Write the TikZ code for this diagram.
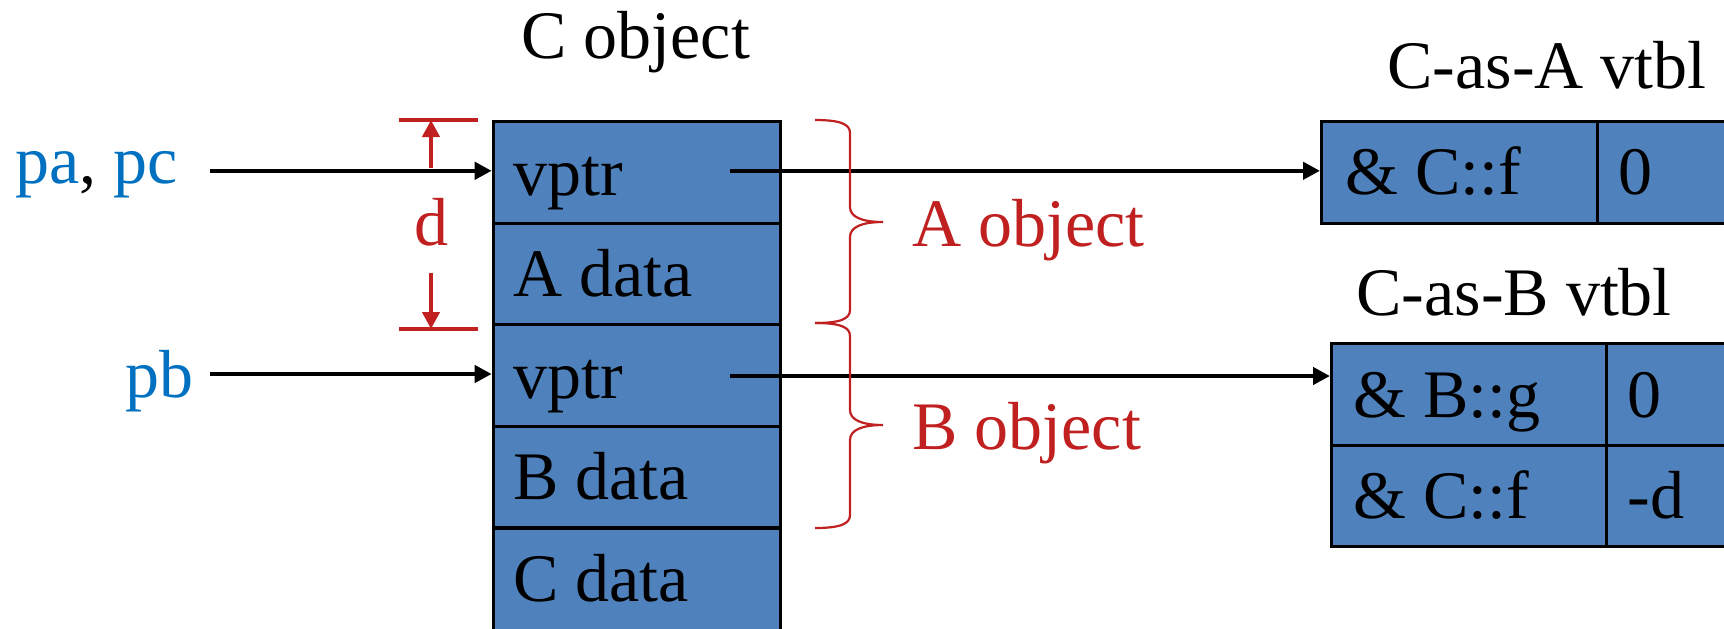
\documentclass[tikz,border=0pt]{standalone}
\usepackage{fontspec}
\setmainfont{Liberation Serif}
\usetikzlibrary{arrows.meta,calc}
\definecolor{cellblue}{RGB}{79,129,189}
\definecolor{ptrblue}{RGB}{0,112,192}
\definecolor{dimred}{RGB}{192,32,32}
\begin{document}
\begin{tikzpicture}[x=0.5pt,y=-0.5pt,
  cell/.style={draw=black, line width=1.6pt, fill=cellblue, inner sep=0pt, anchor=north west},
  txt/.style={inner sep=0pt, anchor=base west, font=\fontsize{34}{40}\selectfont},
  ptr/.style={line width=2.2pt, -{Triangle[length=8.5pt,width=8.5pt]}},
  dimline/.style={draw=dimred, line width=1.6pt},
  dimarrow/.style={draw=dimred, line width=2.1pt, -{Triangle[length=8.5pt,width=8.5pt]}},
  bracepath/.style={draw=dimred, line width=1.1pt}]
\useasboundingbox (0,0) rectangle (1724,628);

% C object layout
\node[cell, minimum width=143.5pt, minimum height=50.8pt] (c1) at (491.7,120) {};
\node[cell, minimum width=143.5pt, minimum height=50.8pt] (c2) at (491.7,221.6) {};
\node[cell, minimum width=143.5pt, minimum height=50.8pt] (c3) at (491.7,323.2) {};
\node[cell, minimum width=143.5pt, minimum height=50.8pt] (c4) at (491.7,424.8) {};
\node[cell, minimum width=143.5pt, minimum height=60pt] (c5) at (491.7,526.4) {};
\node[txt] (t1) at ($(c1.north west)+(21,75)$) {vptr};
\node[txt] (t2) at ($(c2.north west)+(21,75)$) {A data};
\node[txt] (t3) at ($(c3.north west)+(21,75)$) {vptr};
\node[txt] (t4) at ($(c4.north west)+(21,75)$) {B data};
\node[txt] (t5) at ($(c5.north west)+(21,75)$) {C data};
\node[txt] (cobj) at (521,58) {C object};

% C-as-A vtbl
\node[cell, minimum width=138pt, minimum height=51pt] (vA1) at (1320,119.5) {};
\node[cell, minimum width=90pt, minimum height=51pt] (vA2) at (1596,119.5) {};
\node[txt] (vAt1) at ($(vA1.north west)+(25,75)$) {\& C::f};
\node[txt] (vAt2) at ($(vA2.north west)+(22,75)$) {0};
\node[txt] (vAtitle) at (1387,88) {C-as-A vtbl};

% C-as-B vtbl
\node[cell, minimum width=137.5pt, minimum height=50.75pt] (vB1) at (1330,342) {};
\node[cell, minimum width=90pt, minimum height=50.75pt] (vB2) at (1605,342) {};
\node[cell, minimum width=137.5pt, minimum height=50.75pt] (vB3) at (1330,443.5) {};
\node[cell, minimum width=90pt, minimum height=50.75pt] (vB4) at (1605,443.5) {};
\node[txt] (vBt1) at ($(vB1.north west)+(23,75)$) {\& B::g};
\node[txt] (vBt2) at ($(vB2.north west)+(22,75)$) {0};
\node[txt] (vBt3) at ($(vB3.north west)+(23,75)$) {\& C::f};
\node[txt] (vBt4) at ($(vB4.north west)+(22,75)$) {-d};
\node[txt] (vBtitle) at (1356,315) {C-as-B vtbl};

% pointer labels
\node[txt] (papc) at (15,183) {\textcolor{ptrblue}{pa}, \textcolor{ptrblue}{pc}};
\node[txt, anchor=base east, text=ptrblue] (pb) at (194,397) {pb};

% pointers
\coordinate (pa-tail) at (210,170.8);
\coordinate (pb-tail) at (210,374);
\coordinate (va-tail) at (730,170.8);
\coordinate (vb-tail) at (730,376);
\draw[ptr] (pa-tail) -- (pa-tail -| c1.west);
\draw[ptr] (pb-tail) -- (pb-tail -| c3.west);
\draw[ptr] (va-tail) -- (va-tail -| vA1.west);
\draw[ptr] (vb-tail) -- (vb-tail -| vB1.west);

% offset d
\draw[dimline] (399,120) -- (478,120);
\draw[dimline] (399,329) -- (478,329);
\draw[dimarrow] (431,168) -- (431,120);
\draw[dimarrow] (431,273) -- (431,329);
\node[txt, anchor=base, text=dimred] (dlab) at (431,245) {d};

% sub-object braces
\draw[bracepath] (815,120) .. controls (840,120) and (850,124) .. (850,133)
  -- (850,207) .. controls (850,217) and (862,222) .. (883,222)
  .. controls (862,222) and (850,227) .. (850,237)
  -- (850,310) .. controls (850,319) and (840,323) .. (815,323);
\draw[bracepath] (815,323) .. controls (840,323) and (850,327) .. (850,336)
  -- (850,410) .. controls (850,420) and (862,425) .. (883,425)
  .. controls (862,425) and (850,430) .. (850,440)
  -- (850,515) .. controls (850,524) and (840,528) .. (815,528);
\node[txt, text=dimred] (aobj) at (912,246) {A object};
\node[txt, text=dimred] (bobj) at (912,449) {B object};
\end{tikzpicture}
\end{document}
